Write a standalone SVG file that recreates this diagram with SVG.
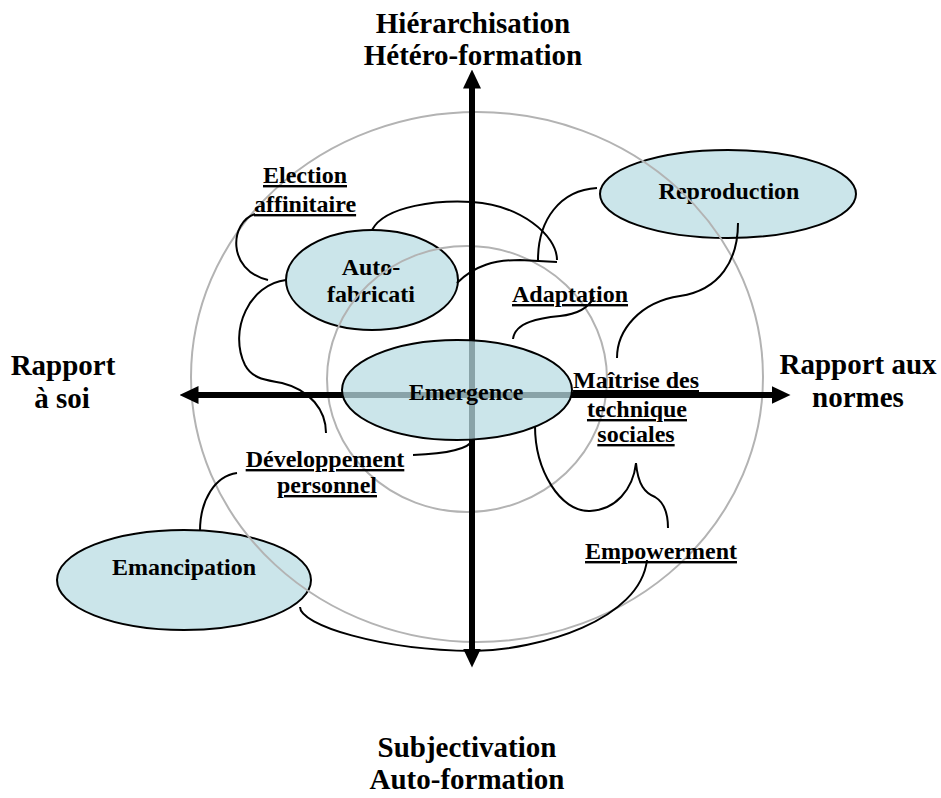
<svg xmlns="http://www.w3.org/2000/svg" width="941" height="798" viewBox="0 0 941 798">
<style>
.ring{fill:none;stroke:#b3b3b3;stroke-width:2}
.axis{stroke:#000;stroke-width:6;fill:none}
.node{fill:#b9dce2;fill-opacity:0.74;stroke:#000;stroke-width:2}
.conn{fill:none;stroke:#000;stroke-width:2}
.t{font-family:"Liberation Serif","Times New Roman",serif;font-weight:bold;text-anchor:middle;fill:#000}
.big{font-size:29px}
.lab{font-size:24px}
.ul{text-decoration:underline}
</style>
<defs>
<marker id="ah" markerUnits="userSpaceOnUse" markerWidth="19" markerHeight="18" viewBox="0 0 19 18" refX="0.5" refY="9" orient="auto-start-reverse">
<path d="M0,0 L19,9 L0,18 z" fill="#000"/>
</marker>
</defs>
<rect width="941" height="798" fill="#fff"/>

<g id="node-autofabricati"><ellipse class="node" cx="372" cy="280" rx="86" ry="50"/><text class="t lab" x="371" y="275">Auto-</text><text class="t lab" x="371" y="302">fabricati</text></g>
<g id="node-reproduction"><ellipse class="node" cx="728" cy="194" rx="128" ry="44"/><text class="t lab" x="729" y="199">Reproduction</text></g>
<g id="node-emancipation"><ellipse class="node" cx="184" cy="580" rx="127" ry="50"/><text class="t lab" x="184" y="575">Emancipation</text></g>

<g id="rings">
<ellipse class="ring" cx="477" cy="377" rx="286" ry="265"/>
<ellipse class="ring" cx="467" cy="379" rx="140" ry="133"/>
</g>

<g id="axes">
<line class="axis" x1="472" y1="88" x2="472" y2="649" marker-start="url(#ah)" marker-end="url(#ah)"/>
<line class="axis" x1="198" y1="395" x2="772" y2="395" marker-start="url(#ah)" marker-end="url(#ah)"/>
</g>

<g id="connectors">
<path class="conn" d="M255 214 C230 222 226 270 268 280"/>
<path class="conn" d="M286 280 C250 284 228 330 245 365 C253 380 268 380 282 383 C310 390 326 410 326 433"/>
<path class="conn" d="M372 230 C385 205 440 200 472 202 C520 205 557 235 557 260"/>
<path class="conn" d="M457 283 C475 265 495 260 520 260 L557 262"/>
<path class="conn" d="M538 260 C538 220 560 190 597 188"/>
<path class="conn" d="M513 339 C515 322 540 318 560 316 C580 314 590 305 594 297"/>
<path class="conn" d="M738 223 C738 260 720 290 680 296 C640 302 617 330 617 358"/>
<path class="conn" d="M413 455 C440 454 468 450 473 440"/>
<path class="conn" d="M237 473 C215 476 200 500 200 531"/>
<path class="conn" d="M300 607 C300 625 380 650 473 651 C540 650 640 620 647 560"/>
<path class="conn" d="M535 426 C535 470 560 512 590 511 C615 510 633 490 636 463 C638 485 645 493 655 497 C665 503 668 515 668 528"/>
</g>

<g id="node-emergence"><ellipse class="node" cx="457" cy="390" rx="115" ry="50"/><text class="t lab" x="466" y="400">Emergence</text></g>

<g id="label-election"><text class="t lab ul" x="305" y="183">Election</text><text class="t lab ul" x="305" y="212">affinitaire</text></g>
<g id="label-adaptation"><text class="t lab ul" x="570" y="302">Adaptation</text></g>
<g id="label-maitrise"><text class="t lab ul" x="636" y="388">Maîtrise des</text><text class="t lab ul" x="637" y="417">technique</text><text class="t lab ul" x="636" y="442">sociales</text></g>
<g id="label-developpement"><text class="t lab ul" x="325" y="467">Développement</text><text class="t lab ul" x="327" y="493">personnel</text></g>
<g id="label-empowerment"><text class="t lab ul" x="661" y="559">Empowerment</text></g>

<g id="axis-top"><text class="t big" x="473" y="33">Hiérarchisation</text><text class="t big" x="473" y="65">Hétéro-formation</text></g>
<g id="axis-left"><text class="t big" x="63" y="375">Rapport</text><text class="t big" x="62" y="408">à soi</text></g>
<g id="axis-right"><text class="t big" x="858" y="374">Rapport aux</text><text class="t big" x="858" y="407">normes</text></g>
<g id="axis-bottom"><text class="t big" x="467" y="757">Subjectivation</text><text class="t big" x="467" y="789">Auto-formation</text></g>
</svg>
